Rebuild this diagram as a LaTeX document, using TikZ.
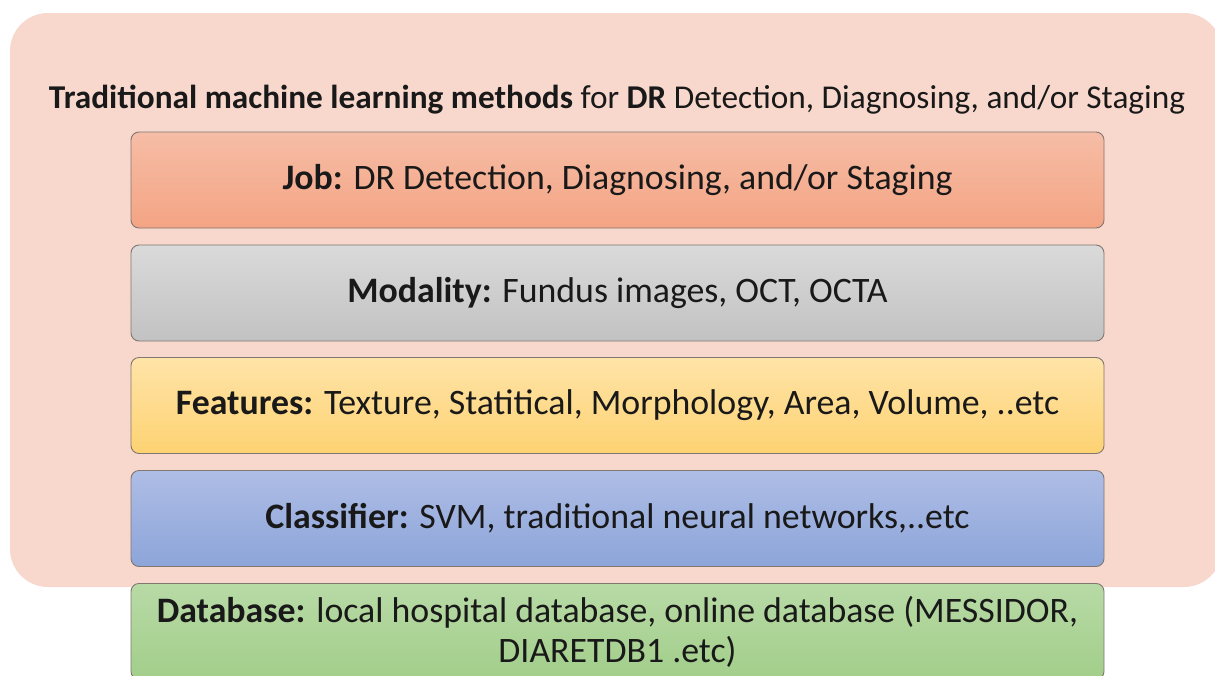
\documentclass[tikz,border=0pt]{standalone}
\usepackage{fontspec}
\setmainfont{Carlito}
\definecolor{outerbg}{HTML}{F8D7CC}
\definecolor{jobtop}{HTML}{F6BDA6}
\definecolor{jobbot}{HTML}{F4A484}
\definecolor{modtop}{HTML}{DADADA}
\definecolor{modbot}{HTML}{C2C2C2}
\definecolor{feattop}{HTML}{FFE4A8}
\definecolor{featbot}{HTML}{FDD272}
\definecolor{clstop}{HTML}{AEBDE5}
\definecolor{clsbot}{HTML}{8DA5DA}
\definecolor{dbtop}{HTML}{B8DAA6}
\definecolor{dbbot}{HTML}{A2CE8A}
\definecolor{edge}{HTML}{7F7770}
\begin{document}
\begin{tikzpicture}[x=1pt,y=-1pt,
  layer/.style={draw=edge, line width=0.9pt, rounded corners=8pt,
    minimum width=973pt, minimum height=96pt, inner sep=0pt,
    font=\fontsize{35.8}{40}\selectfont, align=center, text=black!90}]
\useasboundingbox (0,0) rectangle (1215,675);
\clip (0,0) rectangle (1215,675);
\fill[outerbg, rounded corners=38pt] (10,13) rectangle (1222,587);
\node[anchor=base, font=\fontsize{33.3}{38}\selectfont, text=black!90] (title) at (617,108)
  {\textbf{Traditional machine learning methods} for \textbf{DR} Detection, Diagnosing, and/or Staging};
\node[layer, top color=jobtop, bottom color=jobbot] (job) at (617.5,180)
  {\textbf{Job:} DR Detection, Diagnosing, and/or Staging};
\node[layer, top color=modtop, bottom color=modbot] (mod) at (617.5,293)
  {\textbf{Modality:} Fundus images, OCT, OCTA};
\node[layer, top color=feattop, bottom color=featbot] (feat) at (617.5,405.5)
  {\textbf{Features:} Texture, Statitical, Morphology, Area, Volume, ..etc};
\node[layer, top color=clstop, bottom color=clsbot] (cls) at (617.5,518.5)
  {\textbf{Classifier:} SVM, traditional neural networks,..etc};
\node[layer, top color=dbtop, bottom color=dbbot, minimum height=96pt, anchor=north] (db) at (617.5,583)
  {\textbf{Database:} local hospital database, online database (MESSIDOR,\\DIARETDB1 .etc)};
\end{tikzpicture}
\end{document}
